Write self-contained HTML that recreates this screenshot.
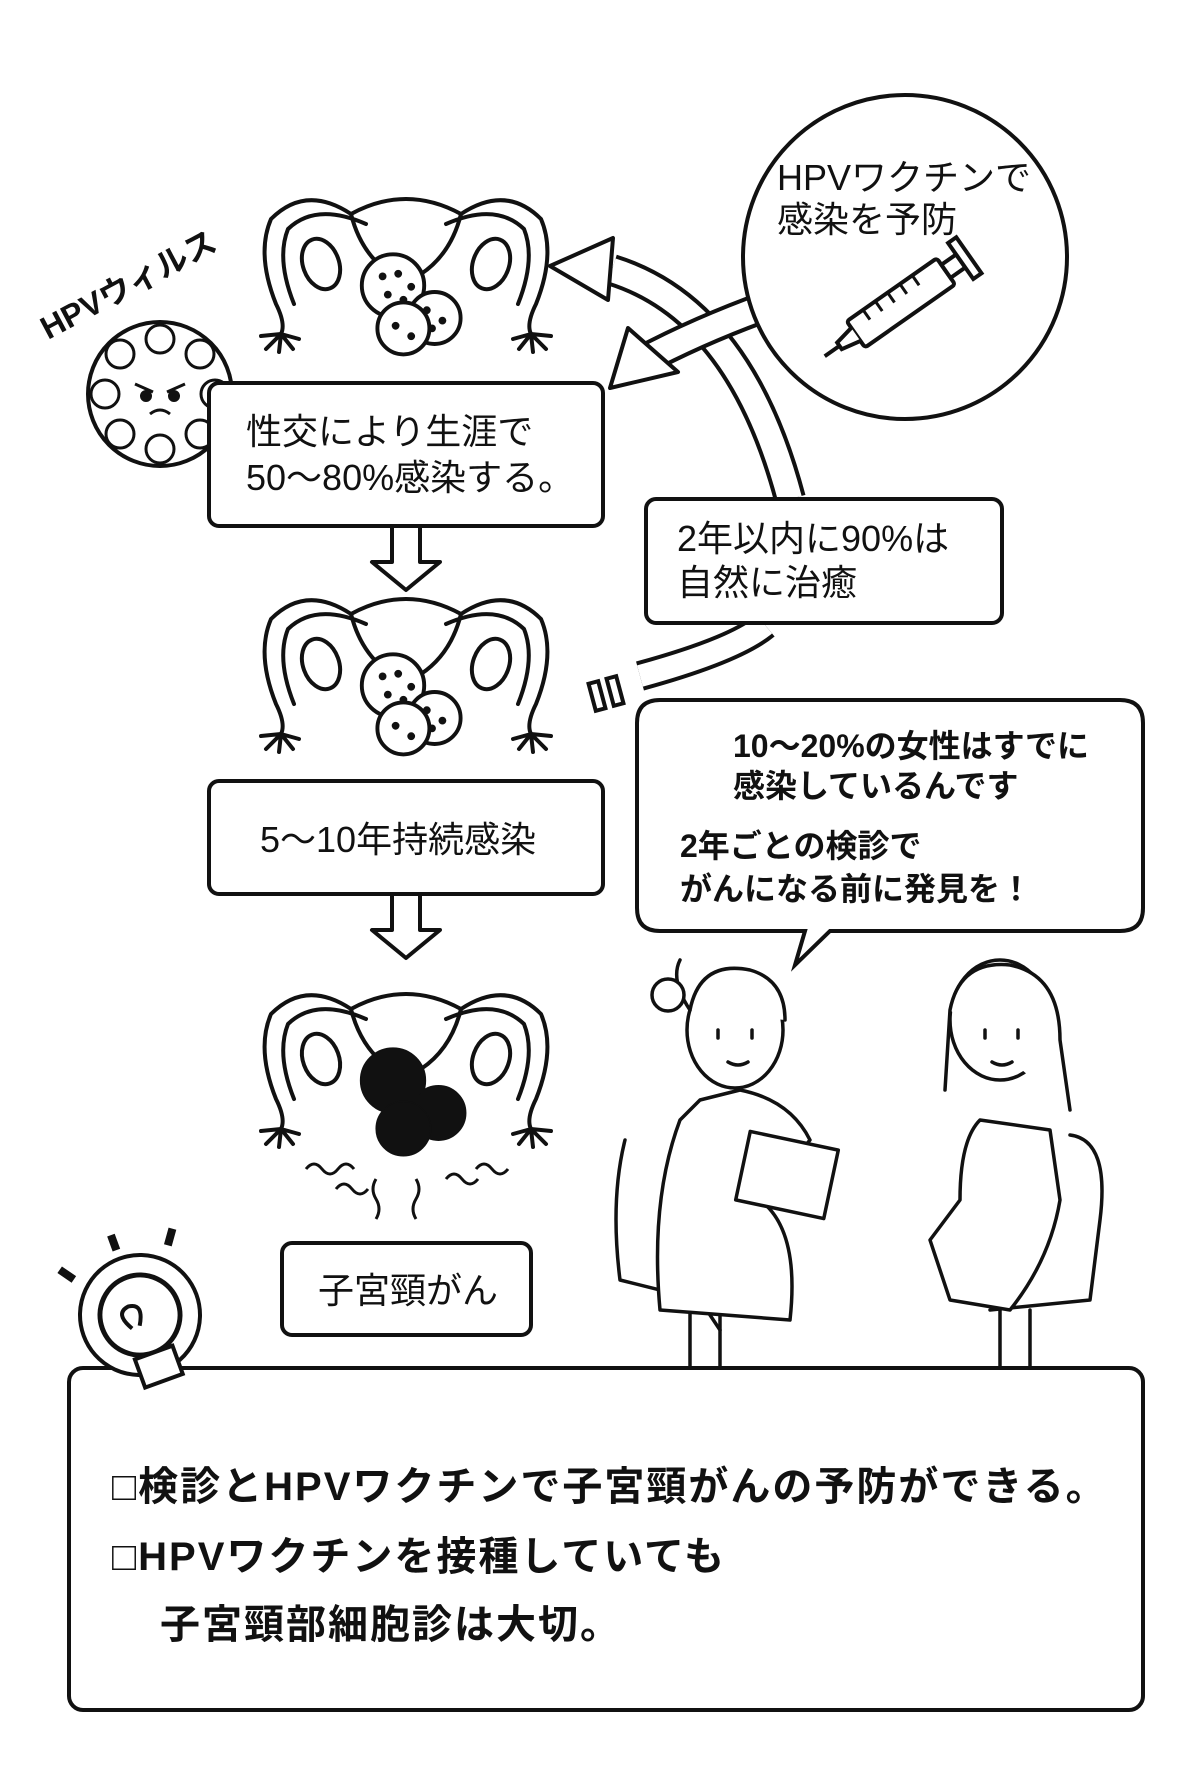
<!DOCTYPE html>
<html><head><meta charset="utf-8"><style>
html,body{margin:0;padding:0;background:#fff}
svg{display:block}
text{font-family:"Liberation Sans","Noto Sans CJK JP",sans-serif;fill:#111}
.b{font-weight:bold}
</style></head><body>
<svg width="1200" height="1777" viewBox="0 0 1200 1777" xmlns="http://www.w3.org/2000/svg">
<defs>
<g id="ut" fill="none" stroke="#111" stroke-width="4" stroke-linecap="round" stroke-linejoin="round">
  <path d="M-55,-60 Q0,-90 55,-60"/>
  <path d="M-55,-60 Q-100,-90 -135,-55 Q-150,-20 -130,30 Q-120,50 -125,60"/>
  <path d="M55,-60 Q100,-90 135,-55 Q150,-20 130,30 Q120,50 125,60"/>
  <path d="M-40,-50 Q-90,-72 -118,-45 Q-130,-15 -112,30"/>
  <path d="M40,-50 Q90,-72 118,-45 Q130,-15 112,30"/>
  <ellipse cx="-85" cy="-10" rx="18" ry="26" transform="rotate(-20 -85 -10)"/>
  <ellipse cx="85" cy="-10" rx="18" ry="26" transform="rotate(20 85 -10)"/>
  <path d="M-55,-60 Q-45,-20 -15,0 M55,-60 Q45,-20 15,0"/>
  <path d="M-125,60 l-20,2 m20,-2 l-15,15 m15,-15 l-2,18 m2,-18 l12,15 m-12,-15 l18,5"/>
  <path d="M125,60 l20,2 m-20,-2 l15,15 m-15,-15 l2,18 m-2,-18 l-12,15 m12,-15 l-18,5"/>
</g>
<g id="cells" fill="#fff" stroke="#111" stroke-width="3">
  <circle cx="-10" cy="-5" r="24"/><circle cx="22" cy="20" r="20"/><circle cx="-2" cy="28" r="20"/>
  <g fill="#111" stroke="none"><circle cx="-18" cy="-12" r="3"/><circle cx="-6" cy="-14" r="3"/><circle cx="4" cy="-4" r="3"/><circle cx="-14" cy="2" r="3"/><circle cx="-2" cy="6" r="3"/><circle cx="16" cy="14" r="3"/><circle cx="28" cy="22" r="3"/><circle cx="-8" cy="26" r="3"/><circle cx="4" cy="34" r="3"/><circle cx="20" cy="28" r="3"/></g>
</g>
</defs>

<!-- uteri -->
<g transform="translate(406,274)"><use href="#ut"/><g transform="translate(0,18) scale(1.3)"><use href="#cells"/></g></g>
<g transform="translate(406,674)"><use href="#ut"/><g transform="translate(0,18) scale(1.3)"><use href="#cells"/></g></g>
<g transform="translate(406,1069)"><use href="#ut"/>
 <g transform="translate(0,18) scale(1.3)" fill="#111" stroke="#111"><circle cx="-10" cy="-5" r="25"/><circle cx="25" cy="20" r="21"/><circle cx="-2" cy="32" r="21"/></g>
 <g fill="none" stroke="#111" stroke-width="3"><path d="M-100,100 q8,-10 16,0 t16,0 t16,0"/><path d="M-70,120 q8,-10 16,0 t16,0"/><path d="M-30,110 q-6,10 0,20 t0,20"/><path d="M10,110 q6,10 0,20 t0,20"/><path d="M40,110 q8,-10 16,0 t16,0"/><path d="M70,100 q8,-10 16,0 t16,0"/></g>
</g>

<!-- HPV virus -->
<g transform="translate(160,394)" fill="#fff" stroke="#111" stroke-width="4">
 <circle r="72"/>
 <g fill="none" stroke-width="3">
  <circle cx="-40" cy="-40" r="14"/><circle cx="0" cy="-55" r="14"/><circle cx="40" cy="-40" r="14"/><circle cx="-55" cy="0" r="14"/><circle cx="55" cy="0" r="14"/><circle cx="-40" cy="40" r="14"/><circle cx="0" cy="55" r="14"/><circle cx="40" cy="40" r="14"/>
  <path d="M-25,-10 l18,8 M25,-10 l-18,8 M-10,20 q10,-8 20,0"/>
 </g>
 <circle cx="-14" cy="2" r="4" fill="#111"/><circle cx="14" cy="2" r="4" fill="#111"/>
</g>
<text x="48" y="340" class="b" font-size="32" transform="rotate(-28 48 340)" font-family="Liberation Serif,Noto Serif CJK SC,serif">HPVウィルス</text>

<!-- curved arrows -->
<g fill="none" stroke-linecap="butt">
 <path d="M612,270 Q740,310 790,499" stroke="#111" stroke-width="32"/>
 <path d="M612,270 Q740,310 790,499" stroke="#fff" stroke-width="24"/>
 <path d="M770,305 Q700,330 640,362" stroke="#111" stroke-width="32"/>
 <path d="M770,305 Q700,330 640,362" stroke="#fff" stroke-width="24"/>
 <path d="M765,625 Q735,650 640,676" stroke="#111" stroke-width="30"/>
 <path d="M765,625 Q735,650 640,676" stroke="#fff" stroke-width="22"/>
</g>
<polygon points="550,266 613,238 608,300" fill="#fff" stroke="#111" stroke-width="4" stroke-linejoin="round"/>
<polygon points="610,388 628,328 678,372" fill="#fff" stroke="#111" stroke-width="4" stroke-linejoin="round"/>
<g fill="#fff" stroke="#111" stroke-width="4"><rect x="592" y="682" width="10" height="28" transform="rotate(-15 597 696)"/><rect x="610" y="677" width="10" height="28" transform="rotate(-15 615 691)"/></g>

<!-- vaccine circle -->
<circle cx="905" cy="257" r="162" fill="#fff" stroke="#111" stroke-width="4"/>
<text x="777" y="190" font-size="36">HPVワクチンで</text>
<text x="777" y="232" font-size="36">感染を予防</text>
<g transform="translate(905,300) rotate(-35)" fill="#fff" stroke="#111" stroke-width="4">
 <rect x="-60" y="-16" width="110" height="32" rx="3"/>
 <rect x="50" y="-8" width="18" height="16"/><rect x="68" y="-22" width="10" height="44"/>
 <path d="M-60,-8 l-20,4 v8 l20,4 M-80,0 h-18"/>
 <path d="M-40,-16 v12 M-25,-16 v12 M-10,-16 v12 M5,-16 v12 M20,-16 v12" stroke-width="3"/>
</g>

<!-- boxes -->
<g fill="#fff" stroke="#111" stroke-width="4">
 <rect x="209" y="383" width="394" height="143" rx="10"/>
 <rect x="646" y="499" width="356" height="124" rx="10"/>
 <rect x="209" y="781" width="394" height="113" rx="10"/>
 <rect x="282" y="1243" width="249" height="92" rx="10"/>
</g>
<text x="246" y="444" font-size="36">性交により生涯で</text>
<text x="246" y="490" font-size="36">50～80%感染する。</text>
<text x="677" y="551" font-size="36">2年以内に90%は</text>
<text x="677" y="595" font-size="36">自然に治癒</text>
<text x="260" y="852" font-size="36">5～10年持続感染</text>
<text x="318" y="1303" font-size="36">子宮頸がん</text>

<!-- down arrows -->
<g fill="#fff" stroke="#111" stroke-width="4" stroke-linejoin="round">
 <polygon points="392,526 420,526 420,562 440,562 406,590 372,562 392,562"/>
 <polygon points="392,894 420,894 420,930 440,930 406,958 372,930 392,930"/>
</g>

<!-- speech bubble -->
<path d="M660,700 H1120 Q1143,700 1143,723 V908 Q1143,931 1120,931 H830 L795,965 L805,931 H660 Q637,931 637,908 V723 Q637,700 660,700 Z" fill="#fff" stroke="#111" stroke-width="4"/>
<g class="b" font-size="32"><text x="733" y="757">10～20%の女性はすでに</text><text x="733" y="797">感染しているんです</text><text x="680" y="857">2年ごとの検診で</text><text x="680" y="900">がんになる前に発見を！</text></g>

<!-- people -->
<g fill="#fff" stroke="#111" stroke-width="3.5" stroke-linejoin="round" stroke-linecap="round">
 <path d="M625,1140 Q610,1200 620,1280 L700,1300 L720,1330"/>
 <path d="M1070,1135 Q1110,1140 1100,1220 L1090,1300 L990,1310"/>
 <path d="M690,1310 v60 M720,1310 v60 M1000,1310 v60 M1030,1310 v60"/>
 <path d="M680,1120 Q650,1200 660,1310 L790,1320 Q800,1230 760,1200 L810,1140 Q790,1100 740,1090 L700,1100 Z"/>
 <ellipse cx="735" cy="1030" rx="48" ry="58"/>
 <path d="M690,1010 Q700,960 750,970 Q785,980 785,1020 M690,1010 Q670,980 680,960"/>
 <circle cx="668" cy="995" r="16"/>
 <path d="M718,1030 v8 M752,1030 v8 M728,1062 q10,6 20,0"/>
 <rect x="742" y="1140" width="90" height="70" transform="rotate(12 787 1175)"/>
 <path d="M980,1120 Q960,1140 960,1200 L930,1240 L950,1300 L1010,1310 Q1050,1260 1060,1200 L1050,1130 Z"/>
 <ellipse cx="1000" cy="1020" rx="50" ry="60"/>
 <path d="M950,1010 Q960,960 1010,965 Q1060,975 1060,1040 L1070,1110 M950,1010 L945,1090"/>
 <path d="M985,1030 v8 M1018,1030 v8 M992,1062 q10,6 20,0"/>
</g>

<!-- bottom box -->
<rect x="69" y="1368" width="1074" height="342" rx="14" fill="#fff" stroke="#111" stroke-width="4"/>
<g class="b" font-size="40" letter-spacing="2"><text x="112" y="1500">□検診とHPVワクチンで子宮頸がんの予防ができる。</text><text x="112" y="1570">□HPVワクチンを接種していても</text><text x="160" y="1638">子宮頸部細胞診は大切。</text></g>

<!-- lightbulb -->
<g transform="translate(140,1315) rotate(-20)" fill="#fff" stroke="#111" stroke-width="5">
 <circle cx="0" cy="0" r="55" stroke-width="14"/>
 <circle cx="0" cy="0" r="55" stroke="#fff" stroke-width="6"/>
 <circle cx="0" cy="0" r="40"/>
 <path d="M-12,10 q-12,-20 4,-22 q16,2 4,22 M-20,40 h40 v30 h-40 Z" stroke-width="4"/>
 <path d="M-60,-70 l10,14 M0,-85 v16 M60,-70 l-10,14" stroke-width="8"/>
</g>
</svg>
</body></html>
